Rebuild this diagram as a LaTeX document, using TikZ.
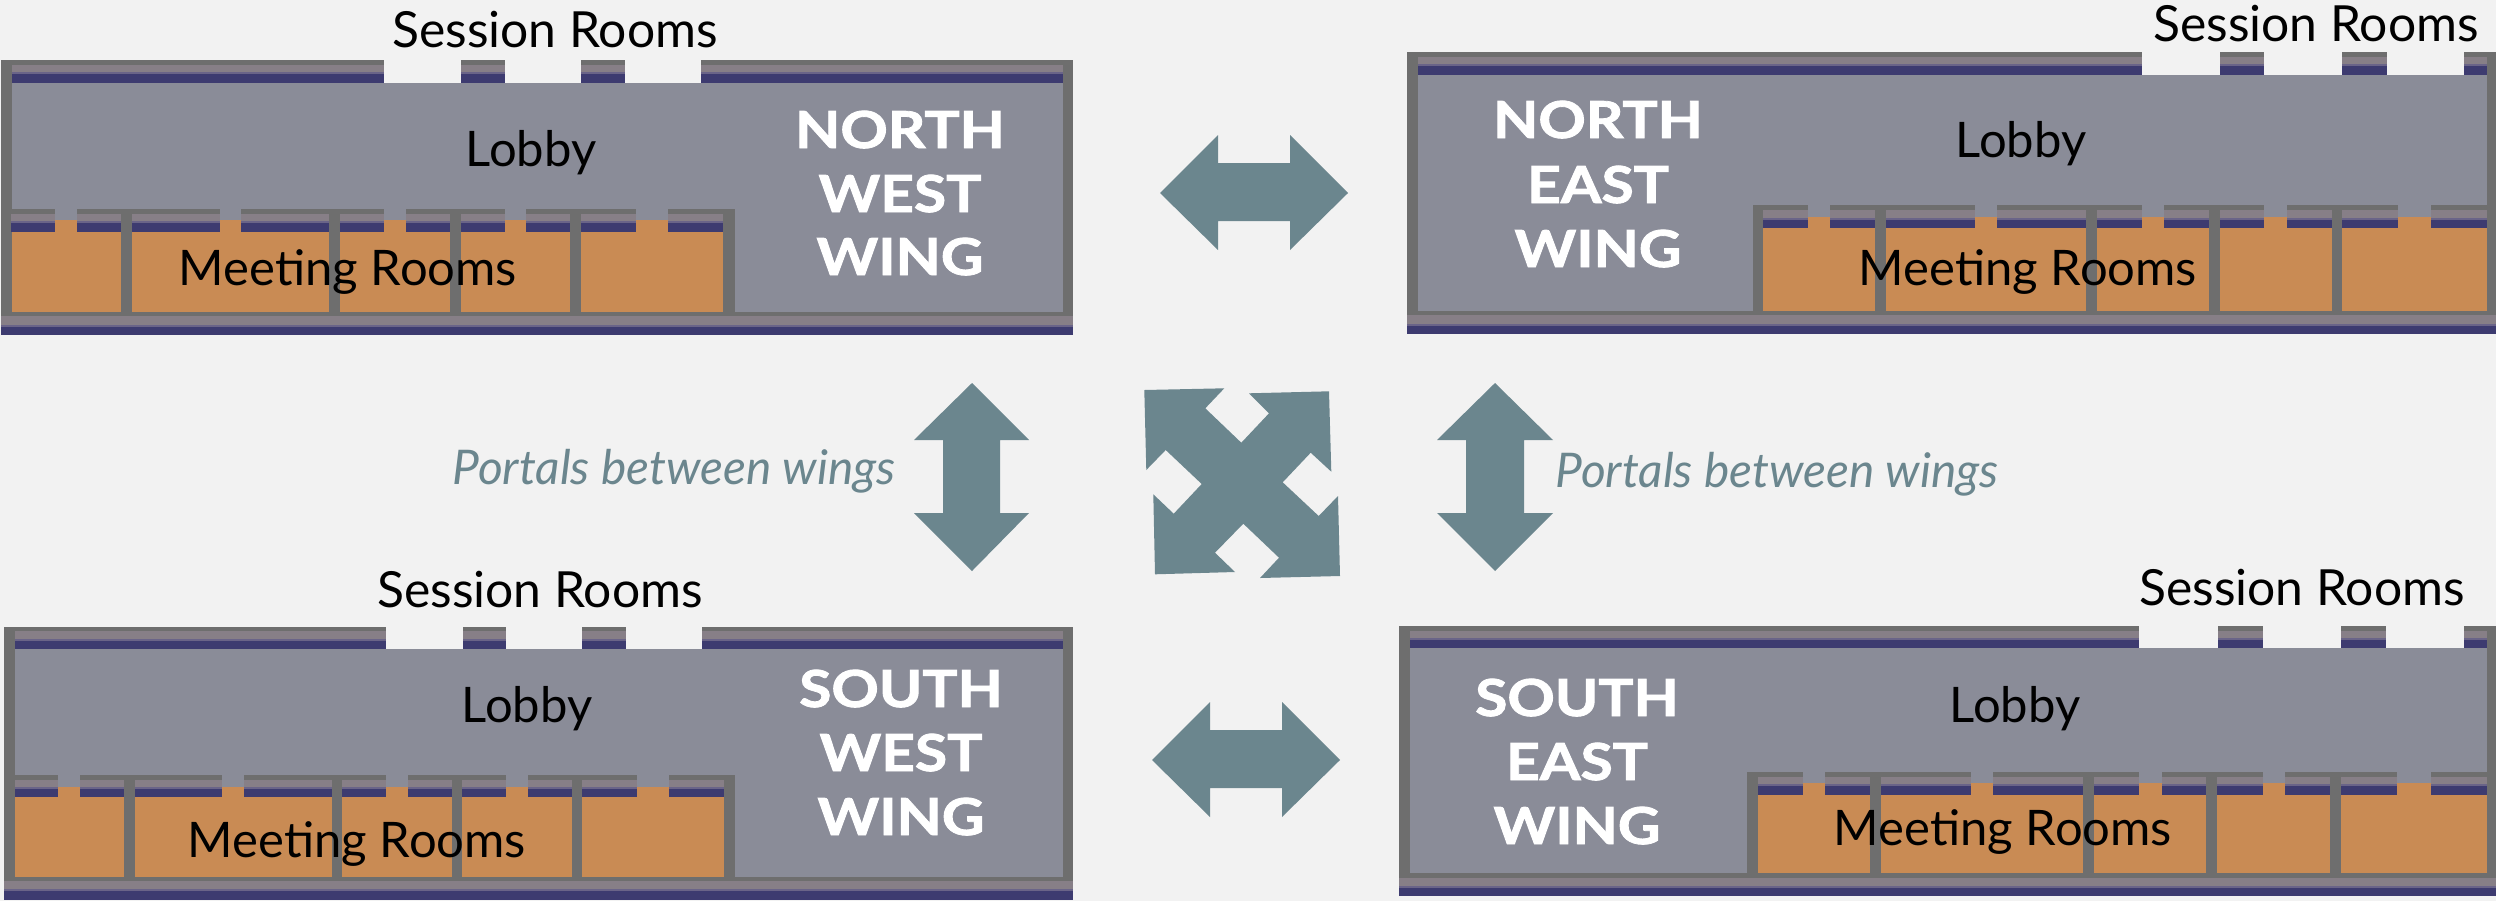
\documentclass[tikz,border=0pt]{standalone}
\usepackage{fontspec}
\usepackage{graphicx}
\setmainfont{Lato}
\newfontfamily\titlefont[BoldFeatures={FakeBold=1.6}]{Lato}
\definecolor{bg}{HTML}{F2F2F2}
\definecolor{wallc}{HTML}{6E6E6E}
\definecolor{bandc}{HTML}{877F87}
\definecolor{bandm}{HTML}{6A6488}
\definecolor{bluec}{HTML}{3D3B70}
\definecolor{lobbyc}{HTML}{8A8C98}
\definecolor{orangec}{HTML}{C98B54}
\definecolor{arrowc}{HTML}{6B868E}
\newcommand\wideword[1]{\scalebox{1.15}[1]{#1}}
\tikzset{
  lbl/.style={anchor=base,inner sep=0pt,text=black,font=\fontsize{24.5}{28}\selectfont},
  sess/.style={lbl,font=\fontsize{24.9}{28}\selectfont},
  title/.style={anchor=base,inner sep=0pt,text=white,font=\fontsize{25.5}{28}\selectfont\titlefont\bfseries},
  portal/.style={anchor=base,inner sep=0pt,text=arrowc,font=\fontsize{23.9}{28}\selectfont\itshape},
  arrowshape/.style={fill=arrowc,draw=none}
}
% strip: x1 x2 ytop ygray yblue ybottom
\newcommand\bandstrip[6]{%
  \fill[wallc] (#1,#3) rectangle (#2,#4);
  \fill[bandc] (#1,#4) rectangle (#2,#5);
  \fill[bluec] (#1,#5) rectangle (#2,#6);
  \fill[bandm] (#1,#5-1) rectangle (#2,#5+1);
}
\newcommand\wingbody[8]{%
  % #1 left #2 right #3 top #4 lobby top #5 inner left #6 inner right #7 wall top #8 wall bottom
  \fill[lobbyc] (#5,#4) rectangle (#6,#7);
  \fill[wallc] (#1,#3) rectangle (#5,#8);
  \fill[wallc] (#6,#3) rectangle (#2,#8);
  \fill[wallc] (#1,#7) rectangle (#2,#8);
}
\begin{document}
\begin{tikzpicture}[x=0.5pt,y=-0.5pt]
\useasboundingbox (0,0) rectangle (2496,901);
\fill[bg] (0,0) rectangle (2496,901);

%%%%% NORTH WEST
\wingbody{1}{1073}{60}{83}{12}{1063}{312}{316}
\fill[orangec] (12,220) rectangle (723,312);
\foreach \a/\b in {12/384,461/505,581/625,701/1063}{\bandstrip{\a}{\b}{60}{65}{73}{83}}
\foreach \a/\b in {11/55,77/121,132/220,241/329,340/384,406/450,461/505,526/570,581/636,668/723}{\bandstrip{\a}{\b}{209}{214}{222}{232}}
\foreach \a/\b in {121/132,329/340,450/461,570/581,723/735}{\fill[wallc] (\a,209) rectangle (\b,316);}
\bandstrip{1}{1073}{312}{316}{326}{335}

%%%%% NORTH EAST
\wingbody{1407}{2496}{52}{75}{1418}{2487}{311}{315}
\fill[orangec] (1763,217) rectangle (2487,311);
\foreach \a/\b in {1418/2142,2220/2264,2342/2387,2464/2487}{\bandstrip{\a}{\b}{52}{57}{65}{75}}
\foreach \a/\b in {1763/1808,1830/1875,1886/1975,1997/2086,2097/2142,2164/2209,2220/2264,2287/2332,2342/2398,2431/2487}{\bandstrip{\a}{\b}{205}{210}{219}{228}}
\foreach \a/\b in {1753/1763,1875/1886,2086/2097,2209/2220,2332/2342}{\fill[wallc] (\a,205) rectangle (\b,315);}
\bandstrip{1407}{2496}{311}{315}{325}{334}

%%%%% SOUTH WEST
\wingbody{4}{1073}{627}{649}{15}{1063}{877}{881}
\fill[orangec] (15,787) rectangle (724,877);
\foreach \a/\b in {15/386,463/506,582/626,702/1063}{\bandstrip{\a}{\b}{627}{631}{640}{649}}
\foreach \a/\b in {15/58,80/124,135/222,244/332,342/386,408/452,462/506,528/572,582/637,669/724}{\bandstrip{\a}{\b}{775}{780}{788}{797}}
\foreach \a/\b in {124/135,332/342,452/462,572/582,724/735}{\fill[wallc] (\a,775) rectangle (\b,881);}
\bandstrip{4}{1073}{877}{881}{890}{900}

%%%%% SOUTH EAST
\wingbody{1399}{2496}{626}{648}{1410}{2487}{873}{878}
\fill[orangec] (1758,783) rectangle (2487,873);
\foreach \a/\b in {1410/2139,2218/2263,2341/2386,2464/2487}{\bandstrip{\a}{\b}{626}{631}{639}{648}}
\foreach \a/\b in {1758/1803,1825/1870,1881/1971,1993/2083,2094/2139,2162/2206,2217/2263,2285/2330,2341/2397,2431/2487}{\bandstrip{\a}{\b}{772}{777}{785}{795}}
\foreach \a/\b in {1747/1758,1870/1881,2083/2094,2206/2217,2330/2341}{\fill[wallc] (\a,772) rectangle (\b,878);}
\bandstrip{1399}{2496}{873}{878}{887}{896}

%%%%% ARROWS
\fill[arrowshape] (1160,193)--(1218,135)--(1218,163)--(1290,163)--(1290,135)--(1348,193)--(1290,250)--(1290,221)--(1218,221)--(1218,250)--cycle;
\fill[arrowshape] (1152,760)--(1210,702)--(1210,730)--(1282,730)--(1282,702)--(1340,760)--(1282,817)--(1282,788)--(1210,788)--(1210,817)--cycle;
\fill[arrowshape] (972,383)--(1029,440)--(1000,440)--(1000,513)--(1029,513)--(972,571)--(914,513)--(943,513)--(943,440)--(914,440)--cycle;
\fill[arrowshape] (1495,383)--(1553,440)--(1524,440)--(1524,513)--(1553,513)--(1495,571)--(1437,513)--(1466,513)--(1466,440)--(1437,440)--cycle;
\fill[arrowshape] (1144.3,390)--(1224.3,388.3)--(1205.3,408.3)--(1241.3,442.7)--(1269,413.3)--(1249,393.3)--(1329,391.3)--(1331.3,471.7)--(1310.7,452.7)--(1282.7,482.3)--(1318.7,516)--(1338,496)--(1340,576)--(1260,578)--(1279,557.7)--(1243.3,523.7)--(1215,552.7)--(1235,572)--(1155,574.3)--(1153.3,494.3)--(1173.7,513.7)--(1201.7,484)--(1165.7,450)--(1146.3,470)--cycle;

%%%%% TEXT
\node[sess] (nwsession) at (555,47) {Session Rooms};
\node[lbl] (nwlobby) at (531,166) {Lobby};
\node[lbl] (nwmeeting) at (348,285) {Meeting Rooms};
\node[title] (nwa) at (900,148) {\wideword{NORTH}};
\node[title] (nwb) at (900,212) {\wideword{WEST}};
\node[title] (nwc) at (900,275) {\wideword{WING}};

\node[sess] (nesession) at (2316,41) {Session Rooms};
\node[lbl] (nelobby) at (2021,157) {Lobby};
\node[lbl] (nemeeting) at (2028,285) {Meeting Rooms};
\node[title] (nea) at (1598,138) {\wideword{NORTH}};
\node[title] (neb) at (1598,203) {\wideword{EAST}};
\node[title] (nec) at (1598,267) {\wideword{WING}};

\node[sess] (swsession) at (540,607) {Session Rooms};
\node[lbl] (swlobby) at (527,722) {Lobby};
\node[lbl] (swmeeting) at (357,857) {Meeting Rooms};
\node[title] (swa) at (901,707) {\wideword{SOUTH}};
\node[title] (swb) at (901,771) {\wideword{WEST}};
\node[title] (swc) at (901,835) {\wideword{WING}};

\node[sess] (sesession) at (2302,605) {Session Rooms};
\node[lbl] (selobby) at (2015,722) {Lobby};
\node[lbl] (semeeting) at (2003,845) {Meeting Rooms};
\node[title] (sea) at (1577,716) {\wideword{SOUTH}};
\node[title] (seb) at (1577,780) {\wideword{EAST}};
\node[title] (sec) at (1577,844) {\wideword{WING}};

\node[portal] (pl) at (674,484) {Portals between wings};
\node[portal] (pr) at (1777,487) {Portals between wings};
\end{tikzpicture}
\end{document}
